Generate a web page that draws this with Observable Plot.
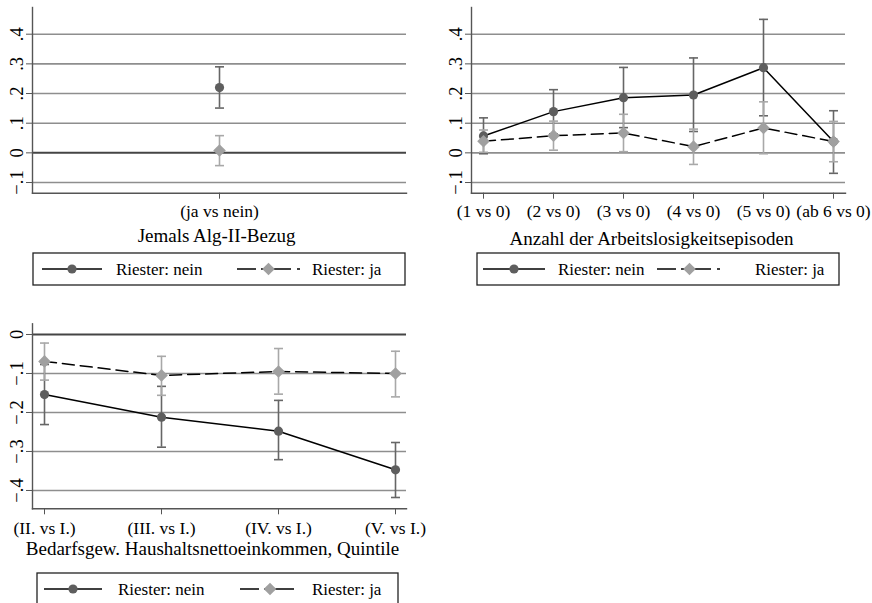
<!DOCTYPE html>
<html>
<head>
<meta charset="utf-8">
<script src="https://cdn.jsdelivr.net/npm/d3@7"></script>
<script src="https://cdn.jsdelivr.net/npm/@observablehq/plot@0.6"></script>
<style>
  html, body { margin: 0; padding: 0; background: #fff; }
  #root { position: relative; width: 872px; height: 603px; overflow: hidden; background: #fff; font-family: "Liberation Serif", "Times New Roman", serif; }
  .panel { position: absolute; }
  .legend { position: absolute; }
</style>
</head>
<body>
<div id="root"></div>
<script>
// ---------- data ----------
const cats1 = ["(ja vs nein)"];
const nein1 = [0.220];
const nein1Lo = [0.151];
const nein1Hi = [0.290];
const ja1 = [0.008];
const ja1Lo = [-0.043];
const ja1Hi = [0.058];

const cats2 = ["(1 vs 0)", "(2 vs 0)", "(3 vs 0)", "(4 vs 0)", "(5 vs 0)", "(ab 6 vs 0)"];
const nein2 = [0.057, 0.139, 0.186, 0.195, 0.287, 0.038];
const nein2Lo = [-0.003, 0.064, 0.085, 0.072, 0.125, -0.069];
const nein2Hi = [0.118, 0.213, 0.288, 0.320, 0.450, 0.142];
const ja2 = [0.039, 0.058, 0.067, 0.021, 0.084, 0.038];
const ja2Lo = [0.002, 0.009, 0.004, -0.039, -0.003, -0.030];
const ja2Hi = [0.077, 0.107, 0.130, 0.080, 0.172, 0.106];

const cats3 = ["(II. vs I.)", "(III. vs I.)", "(IV. vs I.)", "(V. vs I.)"];
const nein3 = [-0.154, -0.212, -0.248, -0.347];
const nein3Lo = [-0.231, -0.289, -0.321, -0.418];
const nein3Hi = [-0.077, -0.133, -0.169, -0.277];
const ja3 = [-0.069, -0.105, -0.095, -0.100];
const ja3Lo = [-0.117, -0.156, -0.153, -0.160];
const ja3Hi = [-0.022, -0.056, -0.036, -0.043];

const yTicksTop = [-0.1, 0, 0.1, 0.2, 0.3, 0.4];
const yTicksBottom = [0, -0.1, -0.2, -0.3, -0.4];

const titles = ["Jemals Alg-II-Bezug", "Anzahl der Arbeitslosigkeitsepisoden", "Bedarfsgew. Haushaltsnettoeinkommen, Quintile"];
const seriesNames = ["Riester: nein", "Riester: ja"];

// ---------- style ----------
const FONT = '"Liberation Serif", "Times New Roman", serif';
const C_NEIN = "#5e5e5e";
const C_JA = "#a0a0a0";
const C_NEIN_CI = "#666666";
const C_JA_CI = "#a8a8a8";
const C_GRID = "#8e8e8e";
const C_ZERO = "#454545";
const C_AXIS = "#555555";

const fmt = d => {
  if (Math.abs(d) < 1e-9) return "0";
  const s = Math.abs(d).toFixed(1).replace(/^0/, "");
  return (d < 0 ? "\u2212" : "") + s;
};

// horizontal cap symbol for the confidence interval ends
const capSymbol = {
  draw(context) {
    context.moveTo(-4.5, 0);
    context.lineTo(4.5, 0);
  }
};

function table(cats, est, lo, hi) {
  return cats.map((c, i) => ({cat: c, est: est[i], lo: lo[i], hi: hi[i]}));
}

function panel(o) {
  const nein = table(o.cats, o.nein, o.neinLo, o.neinHi);
  const ja = table(o.cats, o.ja, o.jaLo, o.jaHi);
  const grid = o.darkZero ? o.yTicks.filter(t => Math.abs(t) > 1e-9) : o.yTicks;
  const cap = (data, key, stroke) => Plot.dot(data, {x: "cat", y: key, symbol: capSymbol, r: 3, fill: "none", stroke, strokeWidth: 1.6});
  const marks = [
    Plot.ruleY(grid, {stroke: C_GRID, strokeWidth: 1.6}),
    o.darkZero ? Plot.ruleY([0], {stroke: C_ZERO, strokeWidth: 2}) : null,
    Plot.frame({anchor: "left", stroke: C_AXIS, strokeWidth: 1.4}),
    Plot.frame({anchor: "bottom", stroke: C_AXIS, strokeWidth: 1.4}),
    Plot.axisY({ticks: o.yTicks, tickFormat: fmt, tickRotate: -90, tickSize: 6, tickPadding: 4, fontSize: 18.5, stroke: C_AXIS, fill: "#000", label: null}),
    Plot.axisX({tickSize: 6, tickPadding: o.xPad, fontSize: 17.5, stroke: C_AXIS, fill: "#000", label: null}),
    Plot.text([o.title], {text: d => d, frameAnchor: "bottom", lineAnchor: "middle", dy: o.titleDy, dx: o.titleDx, fontSize: 19, fill: "#000"}),
    Plot.ruleX(nein, {x: "cat", y1: "lo", y2: "hi", stroke: C_NEIN_CI, strokeWidth: 1.6}),
    cap(nein, "lo", C_NEIN_CI), cap(nein, "hi", C_NEIN_CI),
    Plot.ruleX(ja, {x: "cat", y1: "lo", y2: "hi", stroke: C_JA_CI, strokeWidth: 1.6}),
    cap(ja, "lo", C_JA_CI), cap(ja, "hi", C_JA_CI),
    o.cats.length > 1 ? Plot.line(nein, {x: "cat", y: "est", stroke: "#000", strokeWidth: 1.5}) : null,
    o.cats.length > 1 ? Plot.line(ja, {x: "cat", y: "est", stroke: "#000", strokeWidth: 1.5, strokeDasharray: "12,6"}) : null,
    Plot.dot(nein, {x: "cat", y: "est", r: 4.6, fill: C_NEIN, stroke: null}),
    Plot.dot(ja, {x: "cat", y: "est", r: 5.7, symbol: "diamond2", fill: C_JA, stroke: null})
  ].filter(Boolean);
  const svg = Plot.plot({
    width: o.width, height: o.height,
    marginTop: o.mt, marginBottom: o.mb, marginLeft: o.ml, marginRight: o.mr,
    x: {type: "point", domain: o.cats, padding: o.pad},
    y: {domain: o.yDomain},
    style: {fontFamily: FONT, background: "transparent", color: "#000", overflow: "visible"},
    marks
  });
  svg.classList.add("panel");
  svg.style.left = o.left + "px";
  svg.style.top = o.top + "px";
  return svg;
}

function legend(o) {
  const ns = "http://www.w3.org/2000/svg";
  const svg = document.createElementNS(ns, "svg");
  svg.setAttribute("width", o.w + 2);
  svg.setAttribute("height", o.h + 2);
  svg.setAttribute("class", "legend");
  svg.style.left = (o.left - 1) + "px";
  svg.style.top = (o.top - 1) + "px";
  const cy = o.h / 2 + 1;
  const el = (tag, attrs, text) => {
    const e = document.createElementNS(ns, tag);
    for (const k in attrs) e.setAttribute(k, attrs[k]);
    if (text) e.textContent = text;
    svg.appendChild(e);
    return e;
  };
  el("rect", {x: 1, y: 1, width: o.w, height: o.h, fill: "#fff", stroke: "#222", "stroke-width": 1.3});
  // series 1
  el("line", {x1: o.s1[0] + 1, x2: o.s1[1] + 1, y1: cy, y2: cy, stroke: "#000", "stroke-width": 1.5});
  el("circle", {cx: (o.s1[0] + o.s1[1]) / 2 + 1, cy, r: 4.6, fill: C_NEIN});
  el("text", {x: o.t1 + 1, y: cy, "dominant-baseline": "central", "font-size": 17, "font-family": FONT, fill: "#000"}, seriesNames[0]);
  // series 2
  el("line", {x1: o.s2[0] + 1, x2: o.s2[1] + 1, y1: cy, y2: cy, stroke: "#000", "stroke-width": 1.5, "stroke-dasharray": "19,5,30,6,3,100"});
  const mx = (o.s2[0] + o.s2[1]) / 2 + 1, r = 6.3;
  el("path", {d: `M${mx},${cy - r}L${mx + r},${cy}L${mx},${cy + r}L${mx - r},${cy}Z`, fill: C_JA});
  el("text", {x: o.t2 + 1, y: cy, "dominant-baseline": "central", "font-size": 17, "font-family": FONT, fill: "#000"}, seriesNames[1]);
  return svg;
}

const root = document.getElementById("root");

root.appendChild(panel({
  left: 0, top: 0, width: 420, height: 250, mt: 7, mb: 57.3, ml: 32, mr: 14,
  cats: cats1, nein: nein1, neinLo: nein1Lo, neinHi: nein1Hi, ja: ja1, jaLo: ja1Lo, jaHi: ja1Hi,
  yTicks: yTicksTop, yDomain: [-0.136, 0.49], darkZero: true, pad: 0.5, xPad: 5,
  title: titles[0], titleDy: 43, titleDx: -3
}));
root.appendChild(panel({
  left: 430, top: 0, width: 442, height: 250, mt: 7, mb: 57.3, ml: 41, mr: 27,
  cats: cats2, nein: nein2, neinLo: nein2Lo, neinHi: nein2Hi, ja: ja2, jaLo: ja2Lo, jaHi: ja2Hi,
  yTicks: yTicksTop, yDomain: [-0.136, 0.49], darkZero: false, pad: 0.164, xPad: 5,
  title: titles[1], titleDy: 46, titleDx: -7
}));
root.appendChild(panel({
  left: 0, top: 310, width: 420, height: 260, mt: 13.3, mb: 61.7, ml: 32, mr: 14,
  cats: cats3, nein: nein3, neinLo: nein3Lo, neinHi: nein3Hi, ja: ja3, jaLo: ja3Lo, jaHi: ja3Hi,
  yTicks: yTicksBottom, yDomain: [-0.447, 0.0274], darkZero: true, pad: 0.097, xPad: 7,
  title: titles[2], titleDy: 40, titleDx: -7
}));

root.appendChild(legend({left: 33, top: 253, w: 372, h: 32, s1: [9, 69], t1: 83, s2: [204, 267], t2: 279}));
root.appendChild(legend({left: 477, top: 253, w: 362, h: 32, s1: [6, 68], t1: 81, s2: [180, 245], t2: 278}));
root.appendChild(legend({left: 37, top: 573, w: 361, h: 32, s1: [7, 65], t1: 81, s2: [203, 263], t2: 275}));
</script>
</body>
</html>
